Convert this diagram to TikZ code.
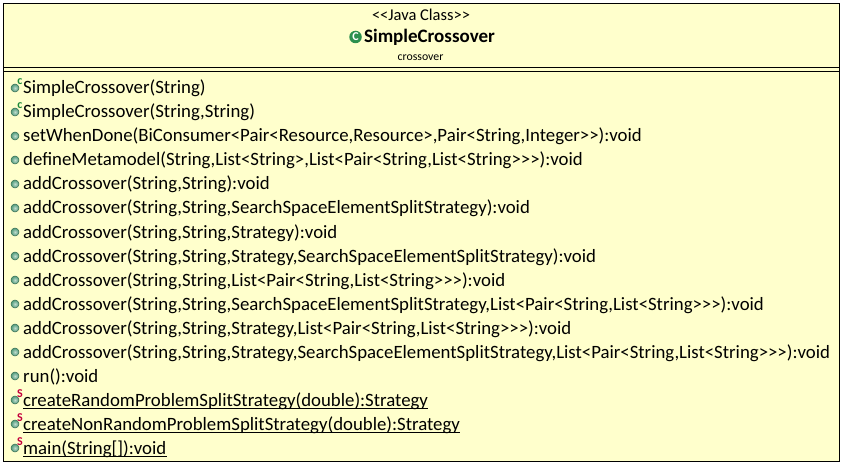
\documentclass[tikz,border=0pt]{standalone}
\usepackage{fontspec}
\setmainfont{Carlito}
\usetikzlibrary{calc, positioning}
\definecolor{classyellow}{HTML}{FFFFCC}
\definecolor{pubgreen}{HTML}{4E9A78}
\definecolor{ctorgreen}{HTML}{1E8C3C}
\definecolor{staticred}{HTML}{C4003C}
\tikzset{
  member/.style={anchor=base west, inner sep=0pt, font=\fontsize{18.8}{20}\selectfont, text=black},
  pubdot/.style={circle, draw=pubgreen!70!black, line width=0.5pt, inner color=pubgreen!35, outer color=pubgreen, minimum size=8pt, inner sep=0pt},
  ctormark/.style={anchor=center, inner sep=0pt, text=ctorgreen, font=\fontsize{12}{12}\selectfont\bfseries},
  staticmark/.style={anchor=center, inner sep=0pt, text=staticred, font=\fontsize{12}{12}\selectfont\bfseries},
  headtext/.style={anchor=base, inner sep=0pt},
}
\begin{document}
\begin{tikzpicture}[x=1pt, y=-1pt]
  \useasboundingbox (0,0) rectangle (843,465);
  \fill[white] (0,0) rectangle (843,465);
  \draw[fill=classyellow, line width=1pt] (3.5,3.5) rectangle (839.5,461);
  \coordinate (sepL1) at (3.5,67.5);
  \coordinate (sepR1) at (839.5,67.5);
  \coordinate (sepL2) at (3.5,72);
  \coordinate (sepR2) at (839.5,72);
  \draw[line width=1pt] (sepL1) -- (sepR1);
  \draw[line width=1pt] (sepL2) -- (sepR2);
  % header
  \node[headtext, font=\fontsize{16.5}{18}\selectfont] (stereotype) at (421,21) {<{}<Java Class>{}>};
  \node[headtext, font=\fontsize{19}{21}\selectfont\bfseries] (classname) at (429.5,43) {SimpleCrossover};
  \node[headtext, font=\fontsize{11.8}{13}\selectfont] (package) at (420.5,61) {crossover};
  \node[circle, fill=ctorgreen!70!pubgreen, minimum size=12.5pt, inner sep=0pt,
        text=white, font=\fontsize{12}{12}\selectfont\bfseries] (classicon) at (355.5,37) {C};
  % members
  \node[member] (m1) at (23,94) {SimpleCrossover(String)};
  \node[member] (m2) at (23,118) {SimpleCrossover(String,String)};
  \node[member] (m3) at (23,142) {setWhenDone(BiConsumer<Pair<Resource,Resource>,Pair<String,Integer>{}>):void};
  \node[member] (m4) at (23,166) {defineMetamodel(String,List<String>,List<Pair<String,List<String>{}>{}>):void};
  \node[member] (m5) at (23,190) {addCrossover(String,String):void};
  \node[member] (m6) at (23,214) {addCrossover(String,String,SearchSpaceElementSplitStrategy):void};
  \node[member] (m7) at (23,238) {addCrossover(String,String,Strategy):void};
  \node[member] (m8) at (23,262) {addCrossover(String,String,Strategy,SearchSpaceElementSplitStrategy):void};
  \node[member] (m9) at (23,286) {addCrossover(String,String,List<Pair<String,List<String>{}>{}>):void};
  \node[member] (m10) at (23,310) {addCrossover(String,String,SearchSpaceElementSplitStrategy,List<Pair<String,List<String>{}>{}>):void};
  \node[member] (m11) at (23,334) {addCrossover(String,String,Strategy,List<Pair<String,List<String>{}>{}>):void};
  \node[member] (m12) at (23,358) {addCrossover(String,String,Strategy,SearchSpaceElementSplitStrategy,List<Pair<String,List<String>{}>{}>):void};
  \node[member] (m13) at (23,382) {run():void};
  \node[member] (m14) at (23,406) {createRandomProblemSplitStrategy(double):Strategy};
  \node[member] (m15) at (23,430) {createNonRandomProblemSplitStrategy(double):Strategy};
  \node[member] (m16) at (23,454) {main(String[]):void};
  % underlines of the static members
  \foreach \i in {14,15,16}
    \draw[line width=1pt] ($(m\i.base west)+(0,2)$) -- ($(m\i.base east)+(0,2)$);
  % icons
  \foreach \i/\ypos in {1/88,2/112,3/136,4/160,5/184,6/208,7/232,8/256,9/280,10/304,11/328,12/352,13/376,14/400,15/424,16/448}
    \node[pubdot] (dot\i) at (15,\ypos) {};
  \node[ctormark] (ctor1) at (20,81.5) {c};
  \node[ctormark] (ctor2) at (20,105.5) {c};
  \node[staticmark] (stat1) at (20,394) {S};
  \node[staticmark] (stat2) at (20,418) {S};
  \node[staticmark] (stat3) at (20,442) {S};
\end{tikzpicture}
\end{document}
